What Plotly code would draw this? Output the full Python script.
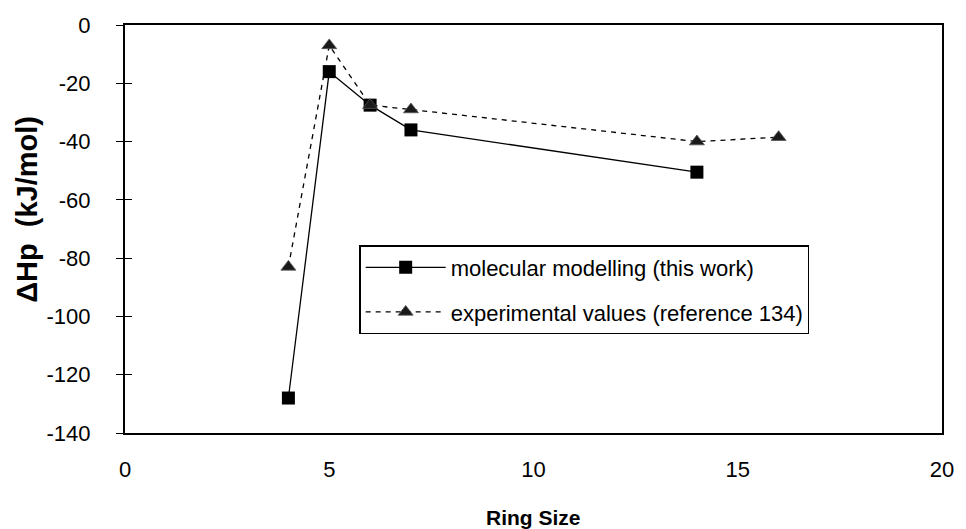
import plotly.graph_objects as go

ring_model = [4, 5, 6, 7, 14]
dh_model = [-128, -16, -27.5, -36, -50.5]
ring_exp = [4, 5, 6, 7, 14, 16]
dh_exp = [-83, -7, -27.5, -29, -40, -38.5]
x_ticks = [0, 5, 10, 15, 20]
y_ticks = [0, -20, -40, -60, -80, -100, -120, -140]

FONT = "Liberation Sans, Arial, sans-serif"

fig = go.Figure()
fig.add_trace(go.Scatter(
    x=ring_model, y=dh_model, mode="lines+markers",
    name="molecular modelling (this work)", legendgroup="a",
    line=dict(color="black", width=1.3),
    marker=dict(symbol="square", size=13, color="black"),
))
fig.add_trace(go.Scatter(
    x=ring_exp, y=dh_exp, mode="lines+markers",
    name="experimental values (reference 134)", legendgroup="b",
    line=dict(color="black", width=1.3, dash="5px,5px"),
    marker=dict(symbol="triangle-up", size=13, color="#1a1a1a",
                line=dict(color="#555", width=0.8)),
))
# invisible trace on overlay axis to draw inward ticks (crossing tick look)
fig.add_trace(go.Scatter(x=[None], y=[None], yaxis="y2", showlegend=False,
                         hoverinfo="skip"))

fig.update_layout(
    width=966, height=529,
    margin=dict(l=125, r=16, t=25, b=96),
    paper_bgcolor="white", plot_bgcolor="white",
    font=dict(family=FONT, size=22, color="black"),
    showlegend=True,
    legend=dict(
        x=0.287, y=0.46, xanchor="left", yanchor="top",
        bgcolor="white", bordercolor="black", borderwidth=1.2,
        font=dict(size=22, family=FONT),
        tracegroupgap=13, traceorder="grouped", itemwidth=80,
    ),
    xaxis=dict(
        range=[0, 20], tickvals=x_ticks, ticktext=[str(v) for v in x_ticks],
        showgrid=False, zeroline=False, showline=True, linecolor="black",
        linewidth=2, mirror=True, ticks="", ticklen=0,
        tickfont=dict(size=22, family=FONT), ticklabelstandoff=16,
    ),
    yaxis=dict(
        range=[-140, 0], tickvals=y_ticks, ticktext=[str(v) for v in y_ticks],
        showgrid=False, zeroline=False, showline=True, linecolor="black",
        linewidth=2, mirror=True, ticks="outside", ticklen=7,
        tickcolor="black", tickwidth=1.3,
        tickfont=dict(size=22, family=FONT), ticklabelstandoff=21,
    ),
    yaxis2=dict(
        range=[-140, 0], tickvals=y_ticks[1:-1], overlaying="y", side="left",
        showticklabels=False, showgrid=False, zeroline=False, showline=False,
        ticks="inside", ticklen=7, tickcolor="black", tickwidth=1.3,
    ),
    annotations=[
        dict(text="<b>ΔHp  (kJ/mol)</b>", xref="paper", yref="paper",
             x=0, y=0.547, xshift=-98, xanchor="center", yanchor="middle",
             textangle=-90, showarrow=False,
             font=dict(size=29, family=FONT)),
        dict(text="<b>Ring Size</b>", xref="paper", yref="paper",
             x=0.5, y=0, yshift=-84, xanchor="center", yanchor="middle",
             showarrow=False, font=dict(size=21, family=FONT)),
    ],
)

fig.write_html(
    "out.html",
    config={"displayModeBar": False},
    post_script="document.body.style.margin='0';document.body.style.overflow='hidden';",
)
